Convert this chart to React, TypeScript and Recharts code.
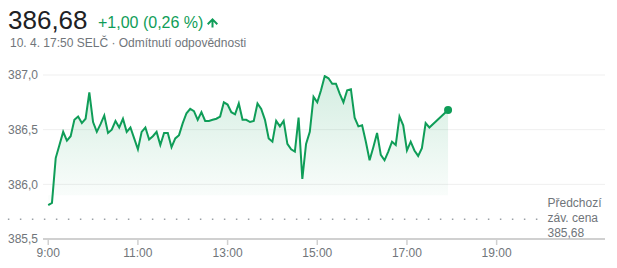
import React from "react";
import {
  ComposedChart,
  Area,
  XAxis,
  YAxis,
  CartesianGrid,
  ReferenceLine,
  ReferenceDot,
} from "recharts";

// ---- data ----
const times: string[] = [
  "9:00", "9:05", "9:10", "9:15", "9:20", "9:25", "9:30", "9:35", "9:40", "9:45", "9:50", "9:55",
  "10:00", "10:05", "10:10", "10:15", "10:20", "10:25", "10:30", "10:35", "10:40", "10:45", "10:50", "10:55",
  "11:00", "11:05", "11:10", "11:15", "11:20", "11:25", "11:30", "11:35", "11:40", "11:45", "11:50", "11:55",
  "12:00", "12:05", "12:10", "12:15", "12:20", "12:25", "12:30", "12:35", "12:40", "12:45", "12:50", "12:55",
  "13:00", "13:05", "13:10", "13:15", "13:20", "13:25", "13:30", "13:35", "13:40", "13:45", "13:50", "13:55",
  "14:00", "14:05", "14:10", "14:15", "14:20", "14:25", "14:30", "14:35", "14:40", "14:45", "14:50", "14:55",
  "15:00", "15:05", "15:10", "15:15", "15:20", "15:25", "15:30", "15:35", "15:40", "15:45", "15:50", "15:55",
  "16:00", "16:05", "16:10", "16:15", "16:20", "16:25", "16:30", "16:35", "16:40", "16:45", "16:50", "16:55",
  "17:00", "17:05", "17:10", "17:15", "17:20", "17:25", "17:30", "17:55",
];

const prices: number[] = [
  385.81, 385.83, 386.24, 386.36, 386.48, 386.40, 386.44, 386.59, 386.62, 386.56, 386.60, 386.84,
  386.57, 386.48, 386.55, 386.63, 386.47, 386.50, 386.58, 386.52, 386.60, 386.48, 386.52, 386.42,
  386.32, 386.48, 386.52, 386.41, 386.44, 386.48, 386.36, 386.47, 386.47, 386.34, 386.42, 386.45,
  386.56, 386.65, 386.69, 386.67, 386.59, 386.66, 386.58, 386.58, 386.59, 386.60, 386.62, 386.75,
  386.73, 386.66, 386.64, 386.74, 386.59, 386.59, 386.57, 386.58, 386.74, 386.69, 386.59, 386.42,
  386.39, 386.58, 386.53, 386.58, 386.37, 386.32, 386.30, 386.61, 386.05, 386.37, 386.48, 386.80,
  386.75, 386.86, 386.99, 386.97, 386.92, 386.92, 386.83, 386.75, 386.86, 386.87, 386.61, 386.53,
  386.54, 386.39, 386.22, 386.34, 386.47, 386.27, 386.22, 386.30, 386.39, 386.36, 386.62, 386.54,
  386.31, 386.39, 386.31, 386.26, 386.33, 386.56, 386.52, 386.68,
];

const xTickLabels: string[] = ["9:00", "11:00", "13:00", "15:00", "17:00", "19:00"];
const yTicks: number[] = [385.5, 386.0, 386.5, 387.0];
const prevClose = 385.68;
const prevCloseSpan: string[] = ["8:06", "19:58"];

const lastPrice = "386,68";
const change = "+1,00 (0,26 %)";
const subtitle = "10. 4. 17:50 SELČ · Odmítnutí odpovědnosti";
const prevCloseLabel: string[] = ["Předchozí", "záv. cena"];

// ---- helpers ----
const toMin = (t: string) => {
  const [h, m] = t.split(":").map(Number);
  return (h - 9) * 60 + m;
};
const fmtTime = (v: number) => {
  const h = 9 + Math.floor(v / 60);
  const m = v % 60;
  return `${h}:${m < 10 ? "0" + m : m}`;
};
const fmtNum = (v: number, d: number) => v.toFixed(d).replace(".", ",");

const data = times.map((t, i) => ({ t: toMin(t), v: prices[i] }));
const last = data[data.length - 1];

const GREEN = "#0f9d58";
const GRAY = "#70757a";
const FONT = "Arial, 'Liberation Sans', sans-serif";

const YTick = (props: any) => {
  const { y, payload } = props;
  return (
    <text x={8} y={y} dy={4.3} textAnchor="start" fontSize={12} fill={GRAY} fontFamily={FONT}>
      {fmtNum(payload.value, 1)}
    </text>
  );
};

export default function App() {
  return (
    <div style={{ position: "absolute", left: 0, top: 0, width: 617, height: 268, background: "#fff", fontFamily: FONT }}>
      <ComposedChart
        width={617}
        height={268}
        data={data}
        margin={{ top: 75, right: 12, bottom: 0, left: 8 }}
      >
        <defs>
          <linearGradient id="fillGrad" x1="0" y1="0" x2="0" y2="1">
            <stop offset="0%" stopColor={GREEN} stopOpacity={0.3} />
            <stop offset="100%" stopColor={GREEN} stopOpacity={0.02} />
          </linearGradient>
        </defs>
        <CartesianGrid vertical={false} stroke="#efefef" strokeWidth={1} />
        <XAxis
          dataKey="t"
          type="number"
          domain={[-7, 745]}
          allowDataOverflow
          ticks={xTickLabels.map(toMin)}
          tickFormatter={fmtTime}
          height={29}
          axisLine={{ stroke: "#d0d0d0", strokeWidth: 2 }}
          tickLine={{ stroke: "#d0d0d0", strokeWidth: 1.5 }}
          tickSize={6}
          tickMargin={3.5}
          tick={{ fontSize: 12, fill: GRAY, fontFamily: FONT }}
        />
        <YAxis
          type="number"
          domain={[385.5, 387]}
          allowDataOverflow
          ticks={yTicks}
          width={35}
          axisLine={false}
          tickLine={false}
          tick={<YTick />}
        />
        <ReferenceLine
          ifOverflow="visible"
          segment={[
            { x: toMin(prevCloseSpan[0]), y: prevClose },
            { x: toMin(prevCloseSpan[1]), y: prevClose },
          ]}
          stroke="#9aa0a6"
          strokeWidth={1.5}
          strokeDasharray="1.5 10.5"
        />
        <Area
          type="linear"
          dataKey="v"
          stroke={GREEN}
          strokeWidth={2}
          fill="url(#fillGrad)"
          baseValue={385.9}
          dot={false}
          activeDot={false}
          isAnimationActive={false}
        />
        <ReferenceDot x={last.t} y={last.v} r={4} fill={GREEN} stroke="none" ifOverflow="visible" />
      </ComposedChart>
      <svg
        width={617}
        height={268}
        style={{ position: "absolute", left: 0, top: 0, pointerEvents: "none" }}
        fontFamily={FONT}
      >
        <text x={8} y={29} fontSize={26} fill="#202124">{lastPrice}</text>
        <text x={98} y={28.3} fontSize={16} fill={GREEN}>{change}</text>
        <path
          d="M212.5 18 L218 23.5 L216.6 24.9 L213.5 21.8 V27.5 H211.5 V21.8 L208.4 24.9 L207 23.5 Z"
          fill={GREEN}
        />
        <text x={10} y={47} fontSize={12} fill={GRAY}>{subtitle}</text>
        <text x={547.5} y={207} fontSize={12} fill={GRAY}>{prevCloseLabel[0]}</text>
        <text x={547.5} y={221.7} fontSize={12} fill={GRAY}>{prevCloseLabel[1]}</text>
        <text x={547.5} y={237} fontSize={12} fill={GRAY}>{fmtNum(prevClose, 2)}</text>
      </svg>
    </div>
  );
}
